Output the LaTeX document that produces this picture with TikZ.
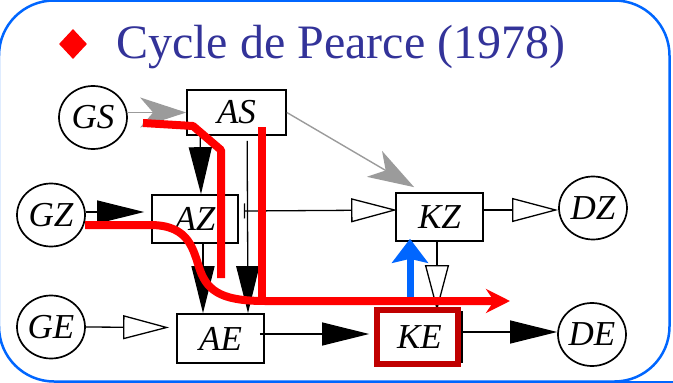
\documentclass[tikz,border=0pt]{standalone}
\usepackage{fontspec}
\setmainfont{Liberation Serif}
\usetikzlibrary{arrows.meta,shapes.geometric}
\definecolor{titleblue}{RGB}{51,51,153}
\definecolor{frameblue}{RGB}{0,102,255}
\definecolor{flowred}{RGB}{255,0,0}
\definecolor{boxred}{RGB}{192,0,0}
\definecolor{arrowgray}{RGB}{155,155,155}
\tikzset{
    OpenHead/.tip = {Triangle[length=46pt, width=24pt, fill=white]},
    SolidHead/.tip = {Triangle[length=47pt, width=23pt]},
    state-circle/.style = {draw, ellipse, line width=1.7pt, minimum width=68pt, minimum height=63pt, inner sep=0pt, font=\fontsize{35}{40}\selectfont\itshape},
    block-box/.style = {draw, rectangle, line width=1.7pt, inner sep=0pt, font=\fontsize{35}{40}\selectfont\itshape},
    solid-arrow/.style = {line width=1.3pt, -SolidHead},
    open-arrow/.style = {line width=1.3pt, -OpenHead},
    gray-arrow/.style = {draw=arrowgray, line width=1.4pt, -{Stealth[length=46pt, width=30pt, inset=13pt]}},
    red-flow/.style = {draw=flowred, line width=8pt, line join=round},
    blue-lift/.style = {draw=frameblue, line width=7pt, -{Stealth[length=24pt, width=36pt, inset=4pt]}},
}
\begin{document}
\begin{tikzpicture}[x=1pt, y=-1pt]
\useasboundingbox (0,0) rectangle (673,383);
\draw[frameblue, line width=2.5pt, rounded corners=55pt] (-1,0.5) rectangle (669.5,381.5);
\draw[frameblue, line width=2pt] (610,381.5) -- (673,381.5);
\node[diamond, fill=flowred, minimum width=28pt, minimum height=30pt, inner sep=0pt] (bullet) at (73,44) {};
\node[anchor=base west, inner sep=0pt, text=titleblue, font=\fontsize{48}{58}\selectfont] (title) at (116,58) {Cycle de Pearce (1978)};

\node[state-circle] (GS) at (93,117.5) {GS};
\node[state-circle] (GZ) at (51,215) {GZ};
\node[state-circle] (GE) at (51,327) {GE};
\node[state-circle] (DZ) at (593,208) {DZ};
\node[state-circle] (DE) at (592,334.5) {DE};
\node[block-box, minimum width=99pt, minimum height=45pt] (AS) at (236.5,112.5) {AS};
\node[block-box, minimum width=86pt, minimum height=48pt] (AZ) at (195,219) {AZ};
\node[block-box, minimum width=87pt, minimum height=49pt] (AE) at (220.5,338.5) {AE};
\node[block-box, minimum width=87pt, minimum height=48pt] (KZ) at (439.5,217) {KZ};
\node[block-box, minimum width=85pt, minimum height=50pt] (KE) at (419.5,337) {KE};

\draw[gray-arrow] (GS.east |- AS.west) -- (AS.west);
\draw[gray-arrow] (AS.east) -- ([xshift=19pt,yshift=5pt]KZ.north west);
\draw[solid-arrow] ([xshift=14pt]AS.south west) -- ([xshift=6pt]AZ.north);
\draw[solid-arrow] ([xshift=61pt,yshift=-5pt]AS.south west) -- ([xshift=27.5pt]AE.north);
\draw[solid-arrow] ([xshift=8pt]AZ.south) -- ([xshift=-17.5pt]AE.north);
\draw[solid-arrow] ([yshift=3pt]GZ.east) -- ([xshift=-7pt,yshift=7pt]AZ.west);
\draw[line width=1.3pt, {Bar[width=15pt]}-OpenHead] ([xshift=5pt,yshift=8pt]AZ.east) -- ([xshift=2pt,yshift=7pt]KZ.west);
\draw[open-arrow] ([yshift=7pt]KZ.east) -- ([yshift=-2pt]DZ.west);
\draw[open-arrow] ([xshift=-2.5pt]KZ.south) -- ([xshift=17.5pt]KE.north);
\draw[open-arrow] (GE.east) -- ([xshift=-7pt,yshift=11pt]AE.west);
\draw[solid-arrow] ([xshift=-5pt,yshift=4.5pt]AE.east) -- ([xshift=-7pt,yshift=3pt]KE.west);
\draw[solid-arrow] ([yshift=5pt]KE.east) -- ([yshift=2.5pt]DE.west);
\draw[draw=boxred, line width=6pt] ([xshift=0.5pt,yshift=1.5pt]KE.north west) rectangle ([xshift=-5pt,yshift=-1pt]KE.south east);

\draw[red-flow] (143,123) -- (193,126) -- (221,150) -- (221,278);
\draw[red-flow] (262,127) -- (262,297);
\coordinate (flow-end) at (510,301);
\draw[red-flow, -{Stealth[length=24pt, width=24pt, inset=8pt]}] (85,225) -- (150,225) .. controls (190,225) and (193,250) .. (200,270) .. controls (208,293) and (225,301) .. (265,301) -- (flow-end);
\coordinate (lift-base) at (410,297);
\draw[blue-lift] (lift-base) -- ([xshift=-29.5pt,yshift=3pt]KZ.south);
\end{tikzpicture}
\end{document}
